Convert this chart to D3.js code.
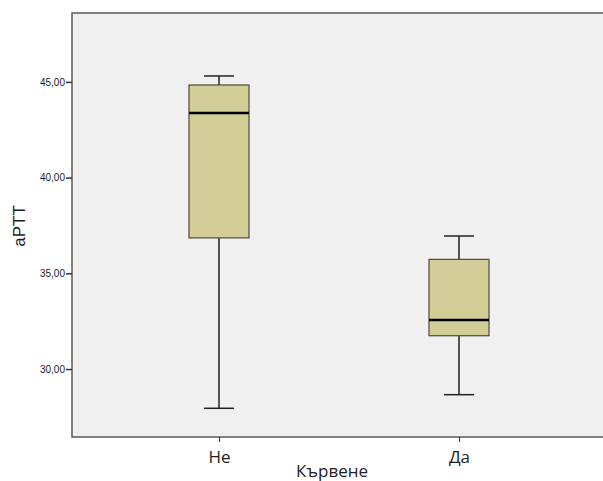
<!DOCTYPE html>
<html>
<head>
<meta charset="utf-8">
<script src="https://cdn.jsdelivr.net/npm/d3@7"></script>
<style>
  body { margin: 0; background: #fff; }
  svg { display: block; }
</style>
</head>
<body>
<svg id="chart" width="603" height="481"></svg>
<script>
// categories and five-number summaries
var categories = ['Не', 'Да'];
var whiskerLow = [27.95, 28.66];
var q1 = [36.85, 31.74];
var medians = [43.38, 32.56];
var q3 = [44.84, 35.73];
var whiskerHigh = [45.31, 36.95];
var yTicks = [30, 35, 40, 45];

(function() {
  var svg = d3.select('#chart');
  var plotL = 72, plotT = 13, plotR = 606, plotB = 437;

  var y = d3.scaleLinear().domain([26.45, 48.6]).range([plotB, plotT]);
  var x = d3.scalePoint().domain(categories).range([plotL, plotR]).padding(0.6125);

  var boxW = 60, capW = 30;

  svg.append('rect')
      .attr('x', plotL).attr('y', plotT)
      .attr('width', plotR - plotL).attr('height', plotB - plotT)
      .attr('fill', '#f0f0f0')
      .attr('stroke', '#5a5a5a')
      .attr('stroke-width', 1.5);

  var fmt = function(d) { return d3.format('.2f')(d).replace('.', ','); };

  var yAxis = svg.append('g')
      .attr('transform', 'translate(' + plotL + ',0)')
      .call(d3.axisLeft(y).tickValues(yTicks).tickFormat(fmt).tickSize(6).tickPadding(1));
  yAxis.select('.domain').remove();
  yAxis.selectAll('line').attr('stroke', '#333').attr('stroke-width', 1.5);
  yAxis.selectAll('text')
      .attr('font-family', 'Liberation Sans, Arial, sans-serif')
      .attr('font-size', 10).attr('fill', '#222');

  var xAxis = svg.append('g')
      .attr('transform', 'translate(0,' + plotB + ')')
      .call(d3.axisBottom(x).tickSize(5));
  xAxis.select('.domain').remove();
  xAxis.selectAll('line').attr('stroke', '#333').attr('stroke-width', 1);
  xAxis.selectAll('text')
      .attr('y', 26).attr('dy', 0)
      .attr('font-family', 'Open Sans, sans-serif')
      .attr('font-size', 17).attr('fill', '#222');

  var boxes = svg.append('g').selectAll('g.box')
      .data(categories.map(function(c, i) {
        return { cat: c, lo: whiskerLow[i], q1: q1[i], med: medians[i], q3: q3[i], hi: whiskerHigh[i] };
      }))
      .enter().append('g').attr('class', 'box');

  // whisker stems
  boxes.append('line')
      .attr('x1', function(d) { return x(d.cat); })
      .attr('x2', function(d) { return x(d.cat); })
      .attr('y1', function(d) { return y(d.hi); })
      .attr('y2', function(d) { return y(d.lo); })
      .attr('stroke', '#222').attr('stroke-width', 1.5);

  // caps
  ['hi', 'lo'].forEach(function(k) {
    boxes.append('line')
        .attr('x1', function(d) { return x(d.cat) - capW / 2; })
        .attr('x2', function(d) { return x(d.cat) + capW / 2; })
        .attr('y1', function(d) { return y(d[k]); })
        .attr('y2', function(d) { return y(d[k]); })
        .attr('stroke', '#222').attr('stroke-width', 1.5);
  });

  boxes.append('rect')
      .attr('x', function(d) { return x(d.cat) - boxW / 2; })
      .attr('y', function(d) { return y(d.q3); })
      .attr('width', boxW)
      .attr('height', function(d) { return y(d.q1) - y(d.q3); })
      .attr('fill', '#d3ce98')
      .attr('stroke', '#4a4a3a').attr('stroke-width', 1.2);

  boxes.append('line')
      .attr('x1', function(d) { return x(d.cat) - boxW / 2; })
      .attr('x2', function(d) { return x(d.cat) + boxW / 2; })
      .attr('y1', function(d) { return y(d.med); })
      .attr('y2', function(d) { return y(d.med); })
      .attr('stroke', '#000').attr('stroke-width', 2.5);

  svg.append('text')
      .attr('transform', 'translate(25,226) rotate(-90)')
      .attr('text-anchor', 'middle')
      .attr('font-family', 'Liberation Sans, Arial, sans-serif')
      .attr('font-size', 17).attr('fill', '#222')
      .text('aPTT');

  svg.append('text')
      .attr('x', 332).attr('y', 477)
      .attr('text-anchor', 'middle')
      .attr('font-family', 'Open Sans, sans-serif')
      .attr('font-size', 17).attr('fill', '#222')
      .text('Кървене');
})();
</script>
</body>
</html>
